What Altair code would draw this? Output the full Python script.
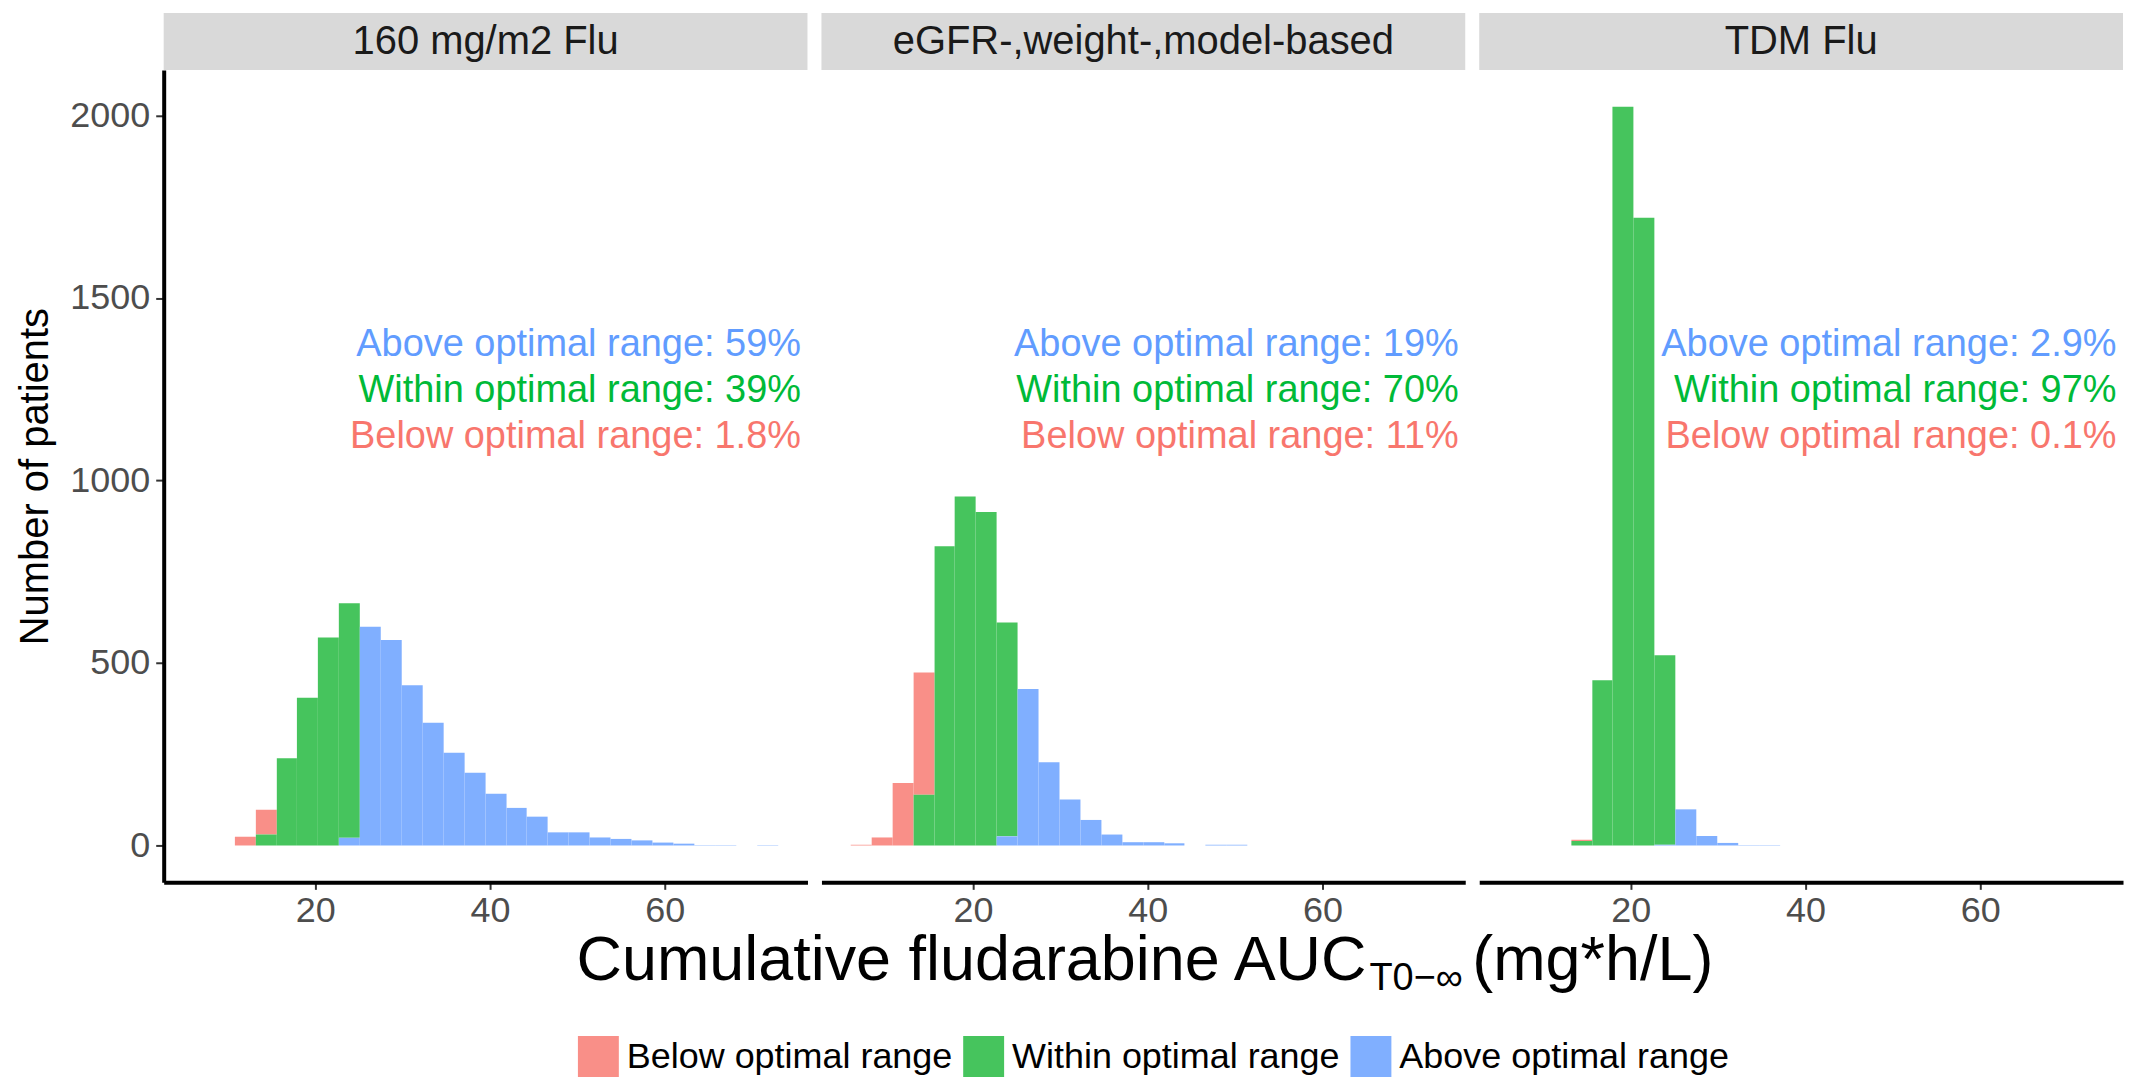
import altair as alt
import pandas as pd

# ---------------- data ----------------
panels = ["160 mg/m2 Flu", "eGFR-,weight-,model-based", "TDM Flu"]
categories = ["Below optimal range", "Within optimal range", "Above optimal range"]
bar_colors = ["#F98F88", "#46C45D", "#80AFFF"]
text_colors = ["#F8766D", "#00BA38", "#619CFF"]

bin_edges = [6.0, 8.4, 10.8, 13.2, 15.6, 17.9, 20.3, 22.7, 25.1, 27.5, 29.9, 32.3,
             34.7, 37.1, 39.5, 41.9, 44.2, 46.6, 49.0, 51.4, 53.8, 56.2, 58.6,
             61.0, 63.4, 65.8, 68.2, 70.6, 73.0]

# counts per bin (28 bins) for each panel / category
p1_below = [0, 0, 24, 68, 0, 0, 0, 0, 0, 0, 0, 0, 0, 0, 0, 0, 0, 0, 0, 0, 0, 0, 0, 0, 0, 0, 0, 0]
p1_within = [0, 0, 0, 30, 239, 405, 570, 643, 0, 0, 0, 0, 0, 0, 0, 0, 0, 0, 0, 0, 0, 0, 0, 0, 0, 0, 0, 0]
p1_above = [0, 0, 0, 0, 0, 0, 0, 21, 599, 563, 439, 336, 254, 199, 142, 103, 79, 36, 36, 22, 18, 14, 8, 5, 1, 1, 0, 1]

p2_below = [2, 22, 171, 335, 0, 0, 0, 0, 0, 0, 0, 0, 0, 0, 0, 0, 0, 0, 0, 0, 0, 0, 0, 0, 0, 0, 0, 0]
p2_within = [0, 0, 0, 139, 820, 956, 914, 586, 0, 0, 0, 0, 0, 0, 0, 0, 0, 0, 0, 0, 0, 0, 0, 0, 0, 0, 0, 0]
p2_above = [0, 0, 0, 0, 0, 0, 0, 25, 429, 228, 126, 70, 30, 9, 9, 6, 0, 2, 2, 0, 0, 0, 0, 0, 0, 0, 0, 0]

p3_below = [0, 0, 0, 4, 0, 0, 0, 0, 0, 0, 0, 0, 0, 0, 0, 0, 0, 0, 0, 0, 0, 0, 0, 0, 0, 0, 0, 0]
p3_within = [0, 0, 0, 12, 453, 2024, 1720, 519, 0, 0, 0, 0, 0, 0, 0, 0, 0, 0, 0, 0, 0, 0, 0, 0, 0, 0, 0, 0]
p3_above = [0, 0, 0, 0, 0, 0, 0, 2, 99, 26, 7, 1, 1, 0, 0, 0, 0, 0, 0, 0, 0, 0, 0, 0, 0, 0, 0, 0]

counts = {
    panels[0]: [p1_below, p1_within, p1_above],
    panels[1]: [p2_below, p2_within, p2_above],
    panels[2]: [p3_below, p3_within, p3_above],
}

ann_above = ["Above optimal range: 59%", "Above optimal range: 19%", "Above optimal range: 2.9%"]
ann_within = ["Within optimal range: 39%", "Within optimal range: 70%", "Within optimal range: 97%"]
ann_below = ["Below optimal range: 1.8%", "Below optimal range: 11%", "Below optimal range: 0.1%"]

x_ticks = [20, 40, 60]
y_ticks = [0, 500, 1000, 1500, 2000]

# ---------------- layout constants ----------------
FONT = "Liberation Sans"
W = 645
H = 814
STRIP = 57
X_DOMAIN = [2.65, 76.35]
Y_DOMAIN = [-101, 2125]
ANN_X = 75.6
ANN_Y = [1370, 1245, 1120]

rows = []
for p in panels:
    for ci, cat in enumerate(categories):
        for k, c in enumerate(counts[p][ci]):
            if c > 0:
                rows.append({"panel": p, "cat": cat, "ord": 2 - ci,
                             "x0": bin_edges[k], "x1": bin_edges[k + 1], "count": c})
df = pd.DataFrame(rows)

color_enc = alt.Color(
    "cat:N",
    scale=alt.Scale(domain=categories, range=bar_colors),
    legend=alt.Legend(
        orient="none", legendX=415, legendY=968, direction="horizontal",
        title=None, symbolType="square", symbolSize=1681, symbolStrokeWidth=0,
        symbolOpacity=1, labelFontSize=36, labelFont=FONT, labelColor="#000000",
        labelOffset=8, columnPadding=10, labelLimit=0,
    ),
)

x_scale = alt.Scale(domain=X_DOMAIN, nice=False, zero=False)
y_scale = alt.Scale(domain=Y_DOMAIN, nice=False, zero=False)


def make_panel(i):
    name = panels[i]
    d = df[df.panel == name]
    x_axis = alt.Axis(values=x_ticks, title=None, grid=False, domainColor="#000000",
                      domainWidth=4, tickColor="#333333", tickWidth=2, tickSize=7,
                      labelPadding=4, labelFontSize=36, labelColor="#4D4D4D", labelFont=FONT)
    if i == 0:
        y_axis = alt.Axis(values=y_ticks, format="d", title="Number of patients", grid=False,
                          domainColor="#000000", domainWidth=4, tickColor="#333333",
                          tickWidth=2, tickSize=8, labelPadding=6, labelFontSize=36,
                          labelColor="#4D4D4D", labelFont=FONT, titleFont=FONT,
                          titleFontSize=40, titleFontWeight="normal", titleColor="#000000",
                          titlePadding=14)
    else:
        y_axis = None

    bars = alt.Chart(d).transform_stack(
        stack="count", groupby=["x0"], sort=[alt.SortField("ord", order="ascending")],
        as_=["y0", "y1"],
    ).mark_bar(strokeWidth=0).encode(
        x=alt.X("x0:Q", scale=x_scale, axis=x_axis),
        x2="x1:Q",
        y=alt.Y("y0:Q", scale=y_scale, axis=y_axis),
        y2="y1:Q",
        color=color_enc,
    )

    strip_df = pd.DataFrame({"label": [name]})
    strip = alt.Chart(strip_df).mark_rect(color="#D9D9D9").encode(
        x=alt.value(0), x2=alt.value(W), y=alt.value(-STRIP), y2=alt.value(0))
    strip_text = alt.Chart(strip_df).mark_text(
        font=FONT, fontSize=40, color="#1A1A1A", baseline="middle", align="center"
    ).encode(x=alt.value(W / 2), y=alt.value(-STRIP / 2 + 1), text="label:N")

    layers = [strip, strip_text, bars]
    for txt, yv, col in [(ann_above[i], ANN_Y[0], text_colors[2]),
                         (ann_within[i], ANN_Y[1], text_colors[1]),
                         (ann_below[i], ANN_Y[2], text_colors[0])]:
        t = alt.Chart(pd.DataFrame({"t": [txt], "y": [yv]})).mark_text(
            font=FONT, fontSize=38, color=col, align="right", baseline="middle"
        ).encode(x=alt.datum(ANN_X), y=alt.Y("y:Q", scale=y_scale), text="t:N")
        layers.append(t)

    if i == 1:
        title_parts = pd.DataFrame({
            "t": ["Cumulative fludarabine AUC", "T0\u2212\u221e", "(mg*h/L)"],
        })
        main = alt.Chart(title_parts.iloc[[0]]).mark_text(
            font=FONT, fontSize=63, color="#000000", align="right", baseline="alphabetic"
        ).encode(x=alt.value(546), y=alt.value(H + 98), text="t:N")
        sub = alt.Chart(title_parts.iloc[[1]]).mark_text(
            font=FONT, fontSize=38, color="#000000", align="left", baseline="alphabetic"
        ).encode(x=alt.value(549), y=alt.value(H + 108), text="t:N")
        rest = alt.Chart(title_parts.iloc[[2]]).mark_text(
            font=FONT, fontSize=63, color="#000000", align="left", baseline="alphabetic"
        ).encode(x=alt.value(652), y=alt.value(H + 98), text="t:N")
        layers += [main, sub, rest]

    return alt.layer(*layers).properties(width=W, height=H)


chart = alt.hconcat(make_panel(0), make_panel(1), make_panel(2), spacing=14, bounds="flush").resolve_scale(
    color="shared"
).resolve_legend(color="shared").properties(
    padding={"left": 15, "top": 12, "right": 8, "bottom": 0},
    background="#FFFFFF",
).configure_view(stroke=None)

chart.save("out.html", embed_options={"renderer": "svg", "actions": False})
